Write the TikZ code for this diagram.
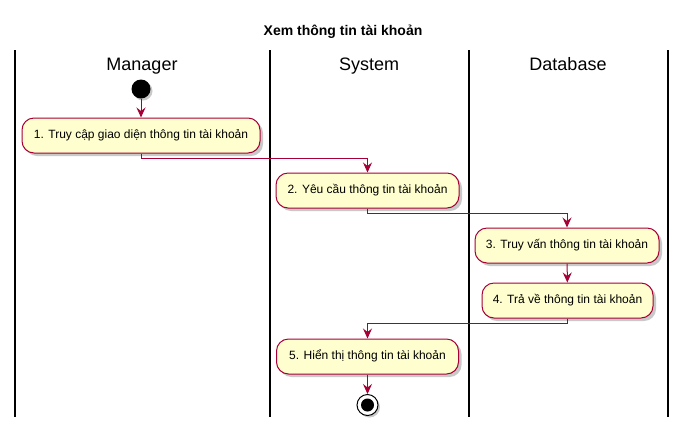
\documentclass[tikz,border=0pt]{standalone}
\usepackage{fontspec}
\setmainfont{Liberation Sans}
\usetikzlibrary{arrows.meta,shadows}
\definecolor{pumlred}{HTML}{A80036}
\definecolor{pumlfill}{HTML}{FEFECE}
\tikzset{
  act/.style={draw=pumlred, fill=pumlfill, line width=1pt, rounded corners=12pt,
    minimum height=35pt, inner sep=0pt, text height=9pt, text depth=2.5pt,
    font=\fontsize{12}{14}\selectfont,
    drop shadow={shadow xshift=3pt, shadow yshift=-3pt, opacity=0.35, fill=black!60}},
  arr/.style={draw=pumlred, line width=1pt, -{Stealth[length=10pt,width=9pt,inset=3.5pt]}},
  lane/.style={draw=black, line width=1.6pt},
  lanehead/.style={font=\fontsize{18}{20}\selectfont, anchor=base, inner sep=0pt},
}
\begin{document}
\begin{tikzpicture}[x=1pt,y=-1pt]
\useasboundingbox[fill=white] (0,0) rectangle (687,432);
\node[font=\bfseries\fontsize{14}{16}\selectfont, anchor=base, inner sep=0pt] (title) at (343,35) {Xem thông tin tài khoản};
% lanes
\foreach \x in {15,270,469,668} \draw[lane] (\x,50) -- (\x,417);
\node[lanehead] (hm) at (142,70.5) {Manager};
\node[lanehead] (hs) at (369,70.5) {System};
\node[lanehead] (hd) at (568,70.5) {Database};
% start
\node[circle, fill=black, minimum size=19pt, inner sep=0pt,
  drop shadow={shadow xshift=2pt, shadow yshift=-2pt, opacity=0.35, fill=black!60}] (start) at (141,89) {};
% activities
\node[act, minimum width=238pt] (b1) at (141,135.5) {1. Truy cập giao diện thông tin tài khoản};
\node[act, minimum width=183pt] (b2) at (367.5,190.5) {2. Yêu cầu thông tin tài khoản};
\node[act, minimum width=184pt] (b3) at (567,245.5) {3. Truy vấn thông tin tài khoản};
\node[act, minimum width=171pt] (b4) at (567.5,300.5) {4. Trả về thông tin tài khoản};
\node[act, minimum width=182pt] (b5) at (367.5,356.5) {5. Hiển thị thông tin tài khoản};
% end
\node[circle, draw=black, line width=1pt, fill=white, minimum size=21pt, inner sep=0pt,
  drop shadow={shadow xshift=2pt, shadow yshift=-2pt, opacity=0.35, fill=black!60}] (end) at (367.5,405) {};
\node[circle, fill=black, minimum size=13pt, inner sep=0pt] (endin) at (end.center) {};
% connectors
\draw[arr] (start) -- (b1);
\draw[arr] (b1.south) -- ++(0,5) -| (b2.north);
\draw[arr] (b2.south) -- ++(0,5) -| (b3.north);
\draw[arr] (b3) -- (b4);
\draw[arr] (b4.south) -- ++(0,5) -| (b5.north);
\draw[arr] (b5) -- (end);
\end{tikzpicture}
\end{document}
